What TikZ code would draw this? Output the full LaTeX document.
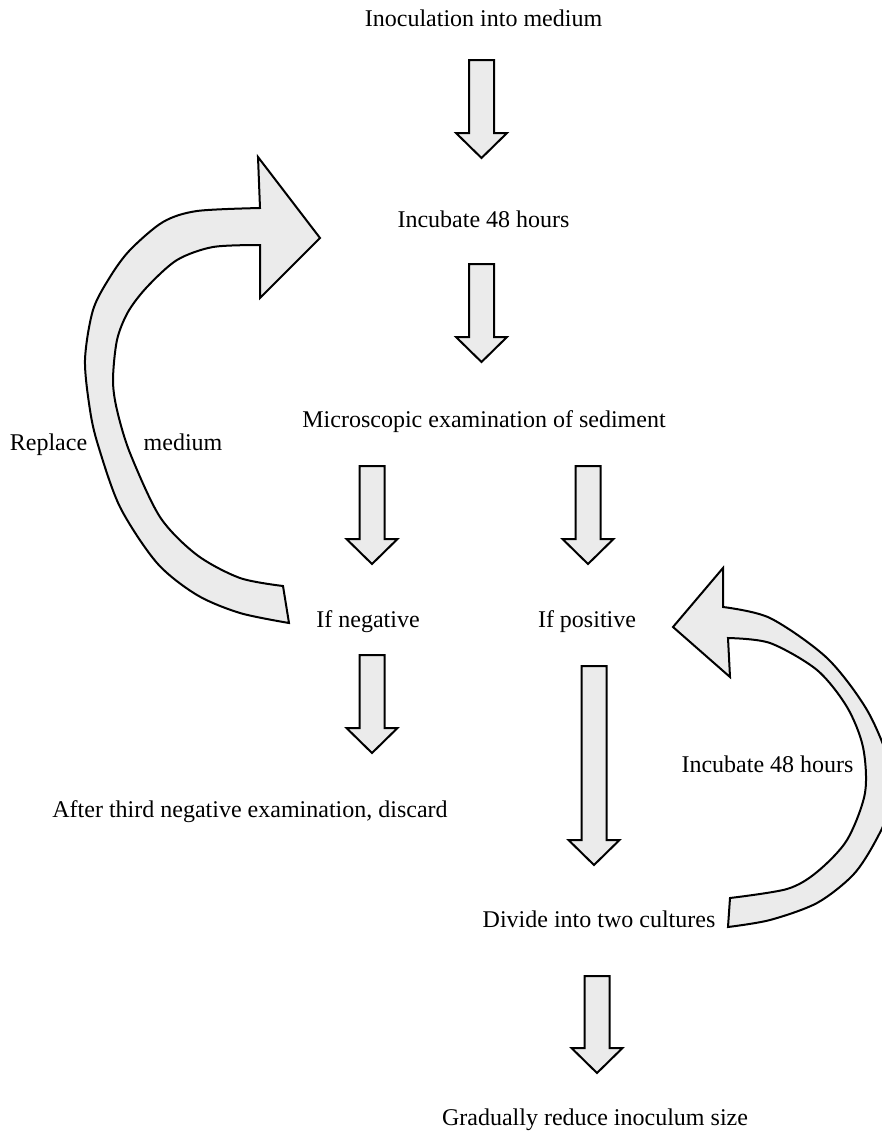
\documentclass[tikz,border=0pt]{standalone}
\usepackage{fontspec}
\setmainfont{Liberation Serif}
\usetikzlibrary{calc}

\tikzset{
  lbl/.style={anchor=base, inner sep=0pt, font=\fontsize{24}{28}\selectfont},
  fat/.style={draw=black, line width=2pt, line join=miter, fill=black!8}
}

% block arrow pointing down, from #1 to the tip #2
\newcommand{\fatarrow}[2]{%
  \draw[fat] let \p1=#1, \p2=#2 in
    (\x2-12.5pt,\y1) -- (\x2+12.5pt,\y1) -- (\x2+12.5pt,\y2+25pt)
    -- (\x2+25.5pt,\y2+25pt) -- (\x2,\y2) -- (\x2-25.5pt,\y2+25pt)
    -- (\x2-12.5pt,\y2+25pt) -- cycle;}

\begin{document}
\begin{tikzpicture}[x=1pt, y=-1pt]
  \useasboundingbox (0,0) rectangle (882,1133);

  \node[lbl] (inoc)    at (483.5,26)  {Inoculation into medium};
  \node[lbl] (inc)     at (483.5,227) {Incubate 48 hours};
  \node[lbl] (micro)   at (484,427)   {Microscopic examination of sediment};
  \node[lbl] (neg)     at (368,627)   {If negative};
  \node[lbl] (pos)     at (587,627)   {If positive};
  \node[lbl] (discard) at (250,817)   {After third negative examination, discard};
  \node[lbl] (divide)  at (599,927)   {Divide into two cultures};
  \node[lbl] (reduce)  at (595,1125)  {Gradually reduce inoculum size};
  \node[lbl] (replace) at (48.5,450)  {Replace};
  \node[lbl] (medium)  at (183,450)   {medium};
  \node[lbl] (incagain) at (767.5,772) {Incubate 48 hours};

  \fatarrow{([yshift=-34pt]inoc.base)}{([xshift=-2pt,yshift=69pt]inc.base)}
  \fatarrow{([yshift=-37pt]inc.base)}{([xshift=-2.5pt,yshift=65pt]micro.base)}
  \fatarrow{([yshift=-39pt]micro.base)}{([xshift=4pt,yshift=63pt]neg.base)}
  \fatarrow{([yshift=-39pt]micro.base)}{([xshift=1pt,yshift=63pt]pos.base)}
  \fatarrow{([yshift=-28pt]neg.base)}{([xshift=122pt,yshift=64pt]discard.base)}
  \fatarrow{([yshift=-39pt]pos.base)}{([xshift=-5pt,yshift=62pt]divide.base)}
  \fatarrow{([yshift=-49pt]divide.base)}{([xshift=2pt,yshift=52pt]reduce.base)}

  % loop back: replace medium
  \draw[fat] (289,623) -- (283,586)
    -- plot[smooth] coordinates {(283,586) (240,578) (197,555) (160,517) (130,453)
       (117,410) (113,380) (117,340) (128,312) (147,287) (177,260) (213,247) (260,245)}
    -- (260,298) -- (320,238) -- (258,157) -- (260,208)
    -- plot[smooth] coordinates {(260,208) (197,211) (163,222) (130,250) (110,277)
       (93,310) (85,360) (90,410) (98,445) (120,507) (157,563) (197,595) (240,613) (289,623)}
    -- cycle;

  % loop back: incubate again
  \draw[fat] (728,927) -- (730,898)
    -- plot[smooth] coordinates {(730,898) (787,889) (817,872) (847,840) (865,793)
       (863,747) (847,707) (817,670) (770,643) (728,638)}
    -- (730,677) -- (673,627) -- (723,568) -- (723,607)
    -- plot[smooth] coordinates {(723,607) (770,618) (827,658) (867,710) (890,765)
       (891,805) (875,842) (853,875) (817,903) (770,920) (728,927)}
    -- cycle;
\end{tikzpicture}
\end{document}
